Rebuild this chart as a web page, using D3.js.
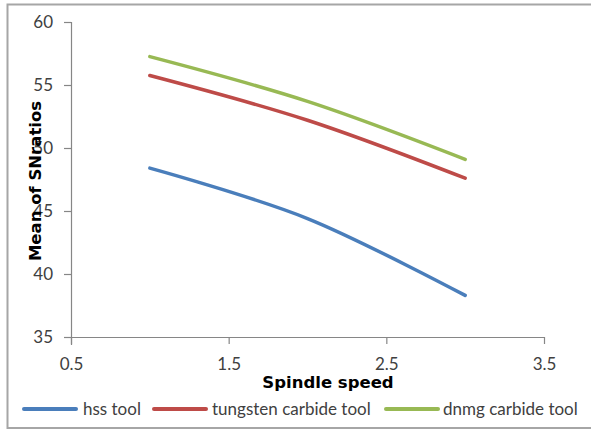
<!DOCTYPE html>
<html><head><meta charset="utf-8">
<script src="https://cdn.jsdelivr.net/npm/d3@7"></script>
<style>body{margin:0;background:#fff;} svg{display:block;}</style>
</head><body>
<svg id="c" width="591" height="430"></svg>
<script>
const speeds = [1, 2, 3];
const hssTool = [48.4, 44.4, 38.3];
const tungstenCarbideTool = [55.75, 52.2, 47.6];
const dnmgCarbideTool = [57.25, 53.7, 49.1];
const seriesNames = ["hss tool", "tungsten carbide tool", "dnmg carbide tool"];
const seriesColors = ["#4A7EBB", "#BE4B48", "#98B954"];
const xTicks = [0.5, 1.5, 2.5, 3.5];
const yTicks = [35, 40, 45, 50, 55, 60];

const series = [hssTool, tungstenCarbideTool, dnmgCarbideTool];
const svg = d3.select("#c");
const font = "Lato, 'Open Sans', sans-serif";
const titleFont = "'DejaVu Sans', sans-serif";

// outer frame
svg.append("rect").attr("x", 7.5).attr("y", 4.5).attr("width", 600).attr("height", 423.5)
  .attr("fill", "none").attr("stroke", "#a6a6a6").attr("stroke-width", 2);

const x = d3.scaleLinear().domain([0.5, 3.5]).range([71, 544]);
const y = d3.scaleLinear().domain([35, 60]).range([337, 22]);

const axisColor = "#868686";
const gx = svg.append("g").attr("transform", "translate(0,337)")
  .call(d3.axisBottom(x).tickValues(xTicks).tickFormat(d3.format(".1f")).tickSize(7).tickSizeOuter(0).tickPadding(14));
const gy = svg.append("g").attr("transform", "translate(71,0)")
  .call(d3.axisLeft(y).tickValues(yTicks).tickSize(7).tickSizeOuter(0).tickPadding(11));
[gx, gy].forEach(g => {
  g.select(".domain").attr("stroke", axisColor).attr("stroke-width", 1.2);
  g.selectAll(".tick line").attr("stroke", axisColor).attr("stroke-width", 1.2);
  g.selectAll(".tick text").attr("fill", "#404040").style("font-family", font).style("font-size", "17px");
});
// extend axis lines across each other
gx.select(".domain").attr("d", "M64,0.5H544");
gy.select(".domain").attr("d", "M0.5,345V22");

const line = d3.line().x((d, i) => x(speeds[i])).y(d => y(d)).curve(d3.curveCatmullRom.alpha(0));
series.forEach((s, i) => {
  svg.append("path").datum(s).attr("d", line).attr("fill", "none")
    .attr("stroke", seriesColors[i]).attr("stroke-width", 3.5).attr("stroke-linecap", "round");
});

// axis titles
svg.append("text").attr("x", 328).attr("y", 388).attr("text-anchor", "middle")
  .style("font-family", titleFont).style("font-weight", "bold").style("font-size", "16.5px").attr("fill", "#000")
  .text("Spindle speed");
svg.append("text").attr("transform", "translate(41,181) rotate(-90)").attr("text-anchor", "middle")
  .style("font-family", titleFont).style("font-weight", "bold").style("font-size", "16.5px").attr("fill", "#000")
  .text("Mean of SNratios");

// legend
const legendPos = [[23, 83], [153, 212], [385, 443]];
seriesNames.forEach((n, i) => {
  const [lx, tx] = legendPos[i];
  svg.append("line").attr("x1", lx + 1).attr("x2", lx + 53).attr("y1", 409).attr("y2", 409)
    .attr("stroke", seriesColors[i]).attr("stroke-width", 4).attr("stroke-linecap", "round");
  svg.append("text").attr("x", tx).attr("y", 414.5).style("font-family", font).style("font-size", "17px")
    .attr("fill", "#404040").text(n);
});
</script>
</body></html>
